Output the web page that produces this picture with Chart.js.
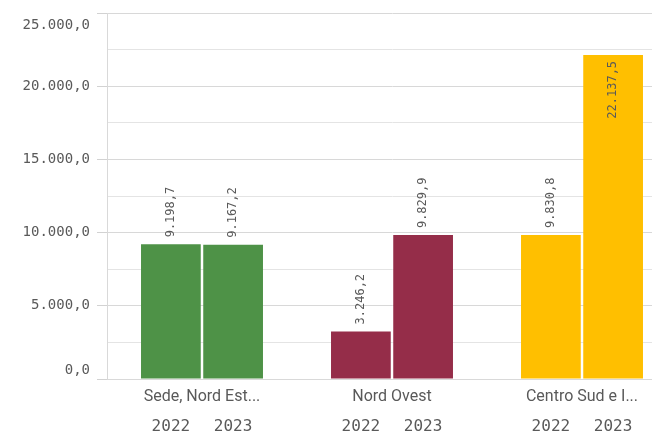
<!DOCTYPE html>
<html>
<head>
<meta charset="utf-8">
<script src="https://cdn.jsdelivr.net/npm/chart.js@4"></script>
<style>
    html, body { margin: 0; padding: 0; background: #fff; overflow: hidden; }
    #wrap { width: 652px; height: 435px; overflow: hidden; }
</style>
</head>
<body>
<div id="wrap"><canvas id="area-chart" width="677" height="435"></canvas></div>
<script>
// --- Chart data ---
const categories = ['Sede, Nord Est...', 'Nord Ovest', 'Centro Sud e I...'];
const years = ['2022', '2023'];
const values2022 = [9198.7, 3246.2, 9830.8];
const values2023 = [9167.2, 9829.9, 22137.5];
const categoryColors = ['#4e9247', '#952d49', '#ffbf00'];
const yTicks = [0, 5000, 10000, 15000, 20000, 25000];

const TEXT_COLOR = '#595959';
const MONO = '"DejaVu Sans Mono", monospace';

// Italian style number: 9.198,7
function formatIt(v) {
    const parts = v.toFixed(1).split('.');
    const intPart = parts[0].replace(/\B(?=(\d{3})+(?!\d))/g, '.');
    return intPart + ',' + parts[1];
}

// --- Custom texts: y labels, year labels and value labels ---
const extraLabels = {
    id: 'extraLabels',
    afterDraw(chart) {
        const ctx = chart.ctx;
        const y = chart.scales.y;
        const area = chart.chartArea;
        ctx.save();
        ctx.fillStyle = TEXT_COLOR;

        // y axis labels, edge ones nudged inside
        ctx.font = '14px ' + MONO;
        ctx.textAlign = 'right';
        ctx.textBaseline = 'middle';
        yTicks.forEach(t => {
            let py = y.getPixelForValue(t);
            if (t === y.max) py += 12;
            if (t === y.min) py -= 9;
            ctx.fillText(formatIt(t), 90, py);
        });

        // year labels under each bar + value labels
        chart.data.datasets.forEach((ds, di) => {
            const meta = chart.getDatasetMeta(di);
            meta.data.forEach((bar, i) => {
                ctx.font = '16px ' + MONO;
                ctx.textAlign = 'center';
                ctx.textBaseline = 'middle';
                ctx.fillText(years[di], bar.x, 427);

                const label = formatIt(ds.data[i]);
                ctx.font = '12px ' + MONO;
                const w = ctx.measureText(label).width;
                ctx.save();
                ctx.translate(bar.x, bar.y);
                ctx.rotate(-Math.PI / 2);
                ctx.textBaseline = 'middle';
                if (bar.y - 7 - w > area.top) {
                    ctx.textAlign = 'left';
                    ctx.fillText(label, 7, 0);
                } else {
                    ctx.textAlign = 'right';
                    ctx.fillText(label, -6, 0);
                }
                ctx.restore();
            });
        });
        ctx.restore();
    }
};

// --- Main chart ---
new Chart(document.getElementById('area-chart').getContext('2d'), {
    type: 'bar',
    data: {
        labels: categories,
        datasets: [
            { label: years[0], data: values2022, backgroundColor: categoryColors },
            { label: years[1], data: values2023, backgroundColor: categoryColors }
        ]
    },
    options: {
        responsive: false,
        animation: false,
        categoryPercentage: 0.655,
        barPercentage: 0.96,
        layout: { padding: { top: 13, right: 0, bottom: 0, left: 0 } },
        plugins: {
            legend: { display: false },
            tooltip: { enabled: false }
        },
        scales: {
            x: {
                grid: { display: false, drawTicks: false },
                border: { display: true, color: '#d9d9d9' },
                ticks: {
                    color: TEXT_COLOR,
                    font: { family: 'Roboto', size: 16 },
                    padding: 8,
                    maxRotation: 0,
                    autoSkip: false
                },
                afterFit: scale => { scale.height = 56; }
            },
            y: {
                min: 0,
                max: 25000,
                ticks: { display: false, stepSize: 2500 },
                grid: {
                    color: c => (c.tick && c.tick.value % 5000 === 0) ? '#d8d8d8' : '#e4e4e4',
                    tickColor: c => (c.tick && c.tick.value % 5000 === 0) ? '#d2d2d2' : 'rgba(0,0,0,0)',
                    tickLength: 10
                },
                border: { display: true, color: '#d9d9d9' },
                afterFit: scale => { scale.width = 107; }
            }
        }
    },
    plugins: [extraLabels]
});
</script>
</body>
</html>
